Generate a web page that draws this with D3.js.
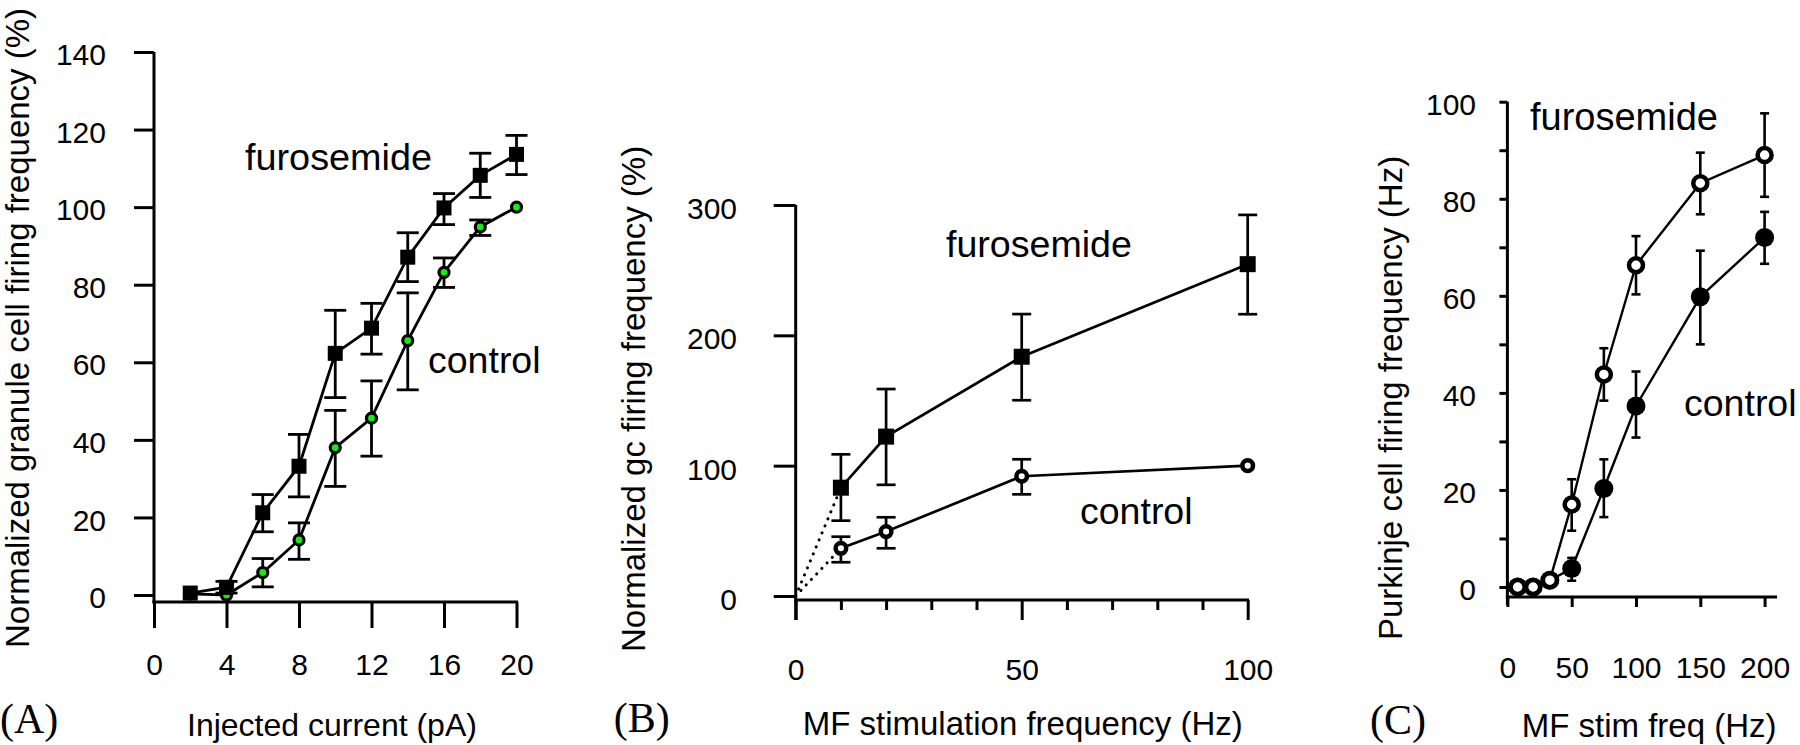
<!DOCTYPE html>
<html><head><meta charset="utf-8">
<script src="https://cdn.jsdelivr.net/npm/d3@7/dist/d3.min.js"></script>
<style>
body{margin:0;background:#fff}
svg{display:block;background:#fff}
text{font-family:"Liberation Sans",Arial,sans-serif;fill:#000}
.axis path,.axis line{stroke:#000;stroke-width:3;fill:none}
.axis text{font-size:30px;font-family:"Liberation Sans",Arial,sans-serif}
</style>
</head><body>
<svg id="chart" width="1800" height="745"></svg>
<script>
// ---------- Panel A : granule cell, injected current ----------
const currentA = [2, 4, 6, 8, 10, 12, 14, 16, 18, 20];
const furoA    = [0.5, 2.0, 21.2, 33.2, 62.3, 68.8, 87.1, 99.8, 108.2, 113.6];
const furoAHi  = [null, 3.5, 25.9, 41.4, 73.4, 75.2, 93.4, 103.5, 113.9, 118.5];
const furoALo  = [null, 0.5, 16.3, 25.3, 50.9, 62.1, 80.8, 95.5, 102.5, 108.4];
const ctrlA    = [0.3, 0.0, 5.8, 14.2, 38.0, 45.6, 65.6, 83.2, 94.9, 100];
const ctrlAHi  = [null, null, 9.4, 18.6, 47.6, 55.2, 77.9, 86.9, 96.7, null];
const ctrlALo  = [null, null, 2.1, 9.2, 28.0, 35.8, 52.9, 79.3, 92.7, null];
const xTicksA  = [0, 4, 8, 12, 16, 20];
const yTicksA  = [0, 20, 40, 60, 80, 100, 120, 140];

// ---------- Panel B : gc firing vs MF stimulation ----------
const freqB    = [10, 20, 50, 100];
const furoB    = [83.1, 122.3, 183.6, 254.6];
const furoBHi  = [108.7, 158.8, 216.3, 292.4];
const furoBLo  = [57.8, 85.3, 150.2, 216.2];
const ctrlB    = [36.6, 49.4, 91.9, 100];
const ctrlBHi  = [45.5, 60.4, 104.9, null];
const ctrlBLo  = [25.9, 36.6, 78.0, null];
const xMajorB  = [0, 50, 100];
const xMinorB  = [10, 20, 30, 40, 60, 70, 80, 90];
const yTicksB  = [0, 100, 200, 300];

// ---------- Panel C : Purkinje cell firing ----------
const freqC    = [8, 20, 33, 50, 75, 100, 150, 200];
const furoC    = [0, 0, 1.4, 17.0, 43.8, 66.3, 83.2, 89.0];
const furoCHi  = [null, null, null, 22.2, 49.2, 72.3, 89.5, 97.6];
const furoCLo  = [null, null, null, 11.6, 38.4, 60.3, 76.8, 80.4];
const ctrlC    = [0, 0, 1.4, 3.8, 20.3, 37.3, 59.8, 72.0];
const ctrlCHi  = [null, null, null, 6.0, 26.3, 44.4, 69.3, 77.3];
const ctrlCLo  = [null, null, null, 1.3, 14.4, 30.8, 50.0, 66.6];
const xTicksC  = [0, 50, 100, 150, 200];
const yTicksC  = [0, 10, 20, 30, 40, 50, 60, 70, 80, 90, 100];

const svg = d3.select("#chart");

function series(g, x, y, xs, m, hi, lo, o) {
  const pts = xs.map((v, i) => ({x: v, m: m[i], hi: hi[i], lo: lo[i]}));
  g.append("path").datum(pts)
    .attr("d", d3.line().x(d => x(d.x)).y(d => y(d.m)))
    .attr("fill", "none").attr("stroke", "#000").attr("stroke-width", o.lw);
  const eb = pts.filter(d => d.hi != null);
  const eg = g.append("g").attr("stroke", "#000").attr("stroke-width", o.ew);
  eg.selectAll(".v").data(eb).join("line")
    .attr("x1", d => x(d.x)).attr("x2", d => x(d.x))
    .attr("y1", d => y(d.hi)).attr("y2", d => y(d.lo));
  eg.selectAll(".t").data(eb).join("line")
    .attr("x1", d => x(d.x) - o.cap / 2).attr("x2", d => x(d.x) + o.cap / 2)
    .attr("y1", d => y(d.hi)).attr("y2", d => y(d.hi));
  eg.selectAll(".b").data(eb).join("line")
    .attr("x1", d => x(d.x) - o.cap / 2).attr("x2", d => x(d.x) + o.cap / 2)
    .attr("y1", d => y(d.lo)).attr("y2", d => y(d.lo));
  if (o.shape === "square") {
    g.selectAll(null).data(pts).join("rect")
      .attr("x", d => x(d.x) - o.size / 2).attr("y", d => y(d.m) - o.size / 2)
      .attr("width", o.size).attr("height", o.size).attr("fill", "#000");
  } else {
    g.selectAll(null).data(pts).join("circle")
      .attr("cx", d => x(d.x)).attr("cy", d => y(d.m)).attr("r", o.r)
      .attr("fill", o.fill).attr("stroke", "#000").attr("stroke-width", o.sw);
  }
}

function label(t, x, y, size) {
  return svg.append("text").attr("x", x).attr("y", y).attr("font-size", size).text(t);
}
function ytitle(t, x, y, size) {
  svg.append("text").attr("transform", `translate(${x},${y}) rotate(-90)`)
    .attr("font-size", size).attr("text-anchor", "start").text(t);
}
function serif(t, x, y) {
  svg.append("text").attr("x", x).attr("y", y).attr("font-size", 42)
    .style("font-family", '"Liberation Serif","Times New Roman",serif').text(t);
}

// ================= Panel A =================
{
  const x = d3.scaleLinear([0, 20], [154, 516.5]);
  const y = d3.scaleLinear([0, 140], [595, 52]);
  const xAxisY = 602;
  const ax = svg.append("g").attr("class", "axis");
  const ya = ax.append("g").attr("transform", `translate(${x(0)},0)`)
    .call(d3.axisLeft(y).tickValues(yTicksA).tickSize(20).tickPadding(28));
  ya.select(".domain").remove();
  ya.selectAll("text").attr("dy", "0.42em");
  ax.append("line").attr("x1", x(0)).attr("x2", x(0)).attr("y1", y(140)).attr("y2", xAxisY + 1.5);
  const xa = ax.append("g").attr("transform", `translate(0,${xAxisY})`)
    .call(d3.axisBottom(x).tickValues(xTicksA).tickSize(26));
  xa.select(".domain").remove();
  xa.selectAll("text").attr("y", 73).attr("dy", null);
  ax.append("line").attr("x1", x(0) - 1.5).attr("x2", 518).attr("y1", xAxisY).attr("y2", xAxisY);

  const g = svg.append("g");
  series(g, x, y, currentA, ctrlA, ctrlAHi, ctrlALo, {lw: 2.8, ew: 2.8, cap: 22, shape: "circle", r: 5, sw: 3.2, fill: "#11ee11"});
  series(g, x, y, currentA, furoA, furoAHi, furoALo, {lw: 2.8, ew: 2.8, cap: 22, shape: "square", size: 15});

  label("furosemide", 245, 170, 37.8);
  label("control", 428, 373, 37.5);
  ytitle("Normalized granule cell firing frequency (%)", 29, 648, 33);
  label("Injected current (pA)", 187, 736, 32);
  serif("(A)", 0, 733);
}

// ================= Panel B =================
{
  const x = d3.scaleLinear([0, 100], [795.7, 1247.7]);
  const y = d3.scaleLinear([0, 300], [596, 205]);
  const xAxisY = 600;
  const ax = svg.append("g").attr("class", "axis");
  const ya = ax.append("g").attr("transform", `translate(${x(0)},0)`)
    .call(d3.axisLeft(y).tickValues(yTicksB).tickSize(22).tickPadding(36.7));
  ya.select(".domain").remove();
  ya.selectAll("text").attr("dy", "0.45em");
  ax.append("line").attr("x1", x(0)).attr("x2", x(0)).attr("y1", y(300)).attr("y2", 620);
  const xa = ax.append("g").attr("transform", `translate(0,${xAxisY})`)
    .call(d3.axisBottom(x).tickValues(xMajorB).tickSize(20));
  xa.select(".domain").remove();
  xa.selectAll("text").attr("y", 80).attr("dy", null);
  const xm = ax.append("g").attr("transform", `translate(0,${xAxisY})`)
    .call(d3.axisBottom(x).tickValues(xMinorB).tickSize(10).tickFormat(""));
  xm.select(".domain").remove();
  ax.append("line").attr("x1", x(0) - 1.5).attr("x2", 1249).attr("y1", xAxisY).attr("y2", xAxisY);

  const g = svg.append("g");
  // dotted extrapolation to origin
  [furoB, ctrlB].forEach(s => {
    g.append("line").attr("x1", x(0)).attr("y1", y(0)).attr("x2", x(freqB[0])).attr("y2", y(s[0]))
      .attr("stroke", "#000").attr("stroke-width", 3).attr("stroke-linecap", "round")
      .attr("stroke-dasharray", "0.1,7.5");
  });
  series(g, x, y, freqB, furoB, furoBHi, furoBLo, {lw: 2.7, ew: 2.7, cap: 19, shape: "square", size: 16});
  series(g, x, y, freqB, ctrlB, ctrlBHi, ctrlBLo, {lw: 2.7, ew: 2.7, cap: 19, shape: "circle", r: 5.3, sw: 4.5, fill: "#fff"});

  label("furosemide", 946, 257, 37.6);
  label("control", 1080, 524, 37.5);
  ytitle("Normalized gc firing frequency (%)", 645, 652, 33);
  label("MF stimulation frequency (Hz)", 802.7, 735, 33);
  serif("(B)", 613.7, 732);
}

// ================= Panel C =================
{
  const x = d3.scaleLinear([0, 200], [1507.4, 1764.6]);
  const y = d3.scaleLinear([0, 100], [587, 101.7]);
  const xAxisY = 597;
  const ax = svg.append("g").attr("class", "axis");
  const ya = ax.append("g").attr("transform", `translate(${x(0)},0)`)
    .call(d3.axisLeft(y).tickValues(yTicksC).tickSize(8).tickPadding(23.4)
      .tickFormat(d => d % 20 === 0 ? d : ""));
  ya.select(".domain").remove();
  ya.selectAll("line").attr("stroke-width", 2.6);
  ya.selectAll("text").attr("dy", "0.42em");
  ax.append("line").attr("x1", x(0)).attr("x2", x(0)).attr("y1", y(100)).attr("y2", 605);
  const xa = ax.append("g").attr("transform", `translate(0,${xAxisY})`)
    .call(d3.axisBottom(x).tickValues(xTicksC).tickSize(10));
  xa.select(".domain").remove();
  xa.selectAll("line").attr("stroke-width", 2.6);
  xa.selectAll("text").attr("y", 81).attr("dy", null);
  ax.append("line").attr("x1", x(0) - 1.5).attr("x2", 1777).attr("y1", xAxisY).attr("y2", xAxisY);

  const g = svg.append("g");
  series(g, x, y, freqC, ctrlC, ctrlCHi, ctrlCLo, {lw: 2.4, ew: 2.6, cap: 9, shape: "circle", r: 9.5, sw: 0, fill: "#000"});
  series(g, x, y, freqC, furoC, furoCHi, furoCLo, {lw: 2.4, ew: 2.6, cap: 9, shape: "circle", r: 7, sw: 4.5, fill: "#fff"});

  label("furosemide", 1530, 130, 38);
  label("control", 1684, 416, 37.5);
  ytitle("Purkinje cell firing frequency (Hz)", 1401.7, 640, 33);
  label("MF stim freq (Hz)", 1521.7, 737, 33);
  serif("(C)", 1370, 734);
}
</script>
</body></html>
